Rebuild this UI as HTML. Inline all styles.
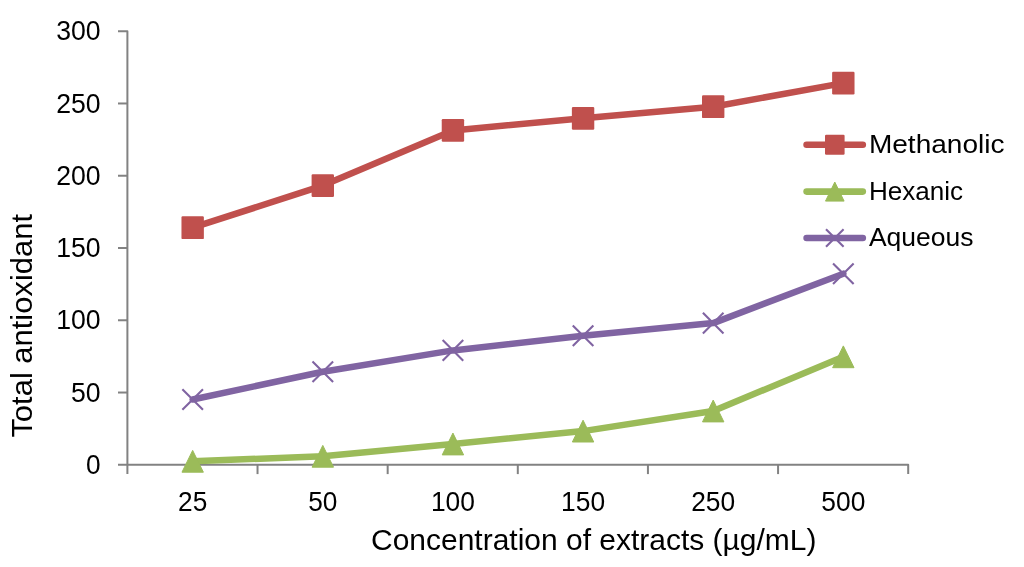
<!DOCTYPE html>
<html><head><meta charset="utf-8"><title>Chart</title>
<style>html,body{margin:0;padding:0;background:#fff;}body{width:1024px;height:567px;overflow:hidden;font-family:"Liberation Sans",sans-serif;}svg{display:block;will-change:transform;}text{font-family:"Liberation Sans",sans-serif;fill:#000;}</style>
</head><body>
<svg width="1024" height="567" viewBox="0 0 1024 567">
<rect x="0" y="0" width="1024" height="567" fill="#ffffff"/>
<g stroke="#828282" stroke-width="2" fill="none" stroke-linecap="butt">
<path stroke-linejoin="round" d="M118.00 31.20 L127.40 31.20 L127.40 474.10"/>
<path stroke-linejoin="round" d="M118.00 464.80 L908.20 464.80 L908.20 474.10"/>
<line x1="118.00" y1="392.53" x2="127.40" y2="392.53"/>
<line x1="118.00" y1="320.27" x2="127.40" y2="320.27"/>
<line x1="118.00" y1="248.00" x2="127.40" y2="248.00"/>
<line x1="118.00" y1="175.73" x2="127.40" y2="175.73"/>
<line x1="118.00" y1="103.47" x2="127.40" y2="103.47"/>
<line x1="257.53" y1="464.80" x2="257.53" y2="474.10"/>
<line x1="387.67" y1="464.80" x2="387.67" y2="474.10"/>
<line x1="517.80" y1="464.80" x2="517.80" y2="474.10"/>
<line x1="647.93" y1="464.80" x2="647.93" y2="474.10"/>
<line x1="778.07" y1="464.80" x2="778.07" y2="474.10"/>
</g>
<text x="100.6" y="473.90" font-size="27.5" text-anchor="end" textLength="14.6" lengthAdjust="spacingAndGlyphs">0</text>
<text x="100.6" y="401.63" font-size="27.5" text-anchor="end" textLength="29.6" lengthAdjust="spacingAndGlyphs">50</text>
<text x="100.6" y="329.37" font-size="27.5" text-anchor="end" textLength="44.4" lengthAdjust="spacingAndGlyphs">100</text>
<text x="100.6" y="257.10" font-size="27.5" text-anchor="end" textLength="44.4" lengthAdjust="spacingAndGlyphs">150</text>
<text x="100.6" y="184.83" font-size="27.5" text-anchor="end" textLength="44.4" lengthAdjust="spacingAndGlyphs">200</text>
<text x="100.6" y="112.57" font-size="27.5" text-anchor="end" textLength="44.4" lengthAdjust="spacingAndGlyphs">250</text>
<text x="100.6" y="40.30" font-size="27.5" text-anchor="end" textLength="44.4" lengthAdjust="spacingAndGlyphs">300</text>
<text x="192.67" y="511.1" font-size="27.5" text-anchor="middle" textLength="29.2" lengthAdjust="spacingAndGlyphs">25</text>
<text x="322.80" y="511.1" font-size="27.5" text-anchor="middle" textLength="29.2" lengthAdjust="spacingAndGlyphs">50</text>
<text x="452.93" y="511.1" font-size="27.5" text-anchor="middle" textLength="44.0" lengthAdjust="spacingAndGlyphs">100</text>
<text x="583.07" y="511.1" font-size="27.5" text-anchor="middle" textLength="44.0" lengthAdjust="spacingAndGlyphs">150</text>
<text x="713.20" y="511.1" font-size="27.5" text-anchor="middle" textLength="44.0" lengthAdjust="spacingAndGlyphs">250</text>
<text x="843.33" y="511.1" font-size="27.5" text-anchor="middle" textLength="44.0" lengthAdjust="spacingAndGlyphs">500</text>
<text x="371" y="549.7" font-size="30.2" textLength="445.5" lengthAdjust="spacingAndGlyphs">Concentration of extracts (µg/mL)</text>
<text transform="translate(32.2,437.6) rotate(-90)" font-size="30.2" textLength="223.6" lengthAdjust="spacingAndGlyphs">Total antioxidant</text>
<polyline points="192.67,227.70 322.80,185.60 452.93,130.40 583.07,118.30 713.20,106.70 843.33,83.10" fill="none" stroke="#C0504D" stroke-width="6.50" stroke-linejoin="round" stroke-linecap="round"/>
<rect x="181.47" y="216.30" width="22.40" height="22.80" rx="1.2" fill="#C0504D"/>
<rect x="311.60" y="174.20" width="22.40" height="22.80" rx="1.2" fill="#C0504D"/>
<rect x="441.73" y="119.00" width="22.40" height="22.80" rx="1.2" fill="#C0504D"/>
<rect x="571.87" y="106.90" width="22.40" height="22.80" rx="1.2" fill="#C0504D"/>
<rect x="702.00" y="95.30" width="22.40" height="22.80" rx="1.2" fill="#C0504D"/>
<rect x="832.13" y="71.70" width="22.40" height="22.80" rx="1.2" fill="#C0504D"/>
<polyline points="192.67,461.30 322.80,456.30 452.93,444.00 583.07,431.10 713.20,411.00 843.33,356.80" fill="none" stroke="#9BBB59" stroke-width="6.50" stroke-linejoin="round" stroke-linecap="round"/>
<path d="M192.67 450.40 L203.37 472.20 L181.97 472.20 Z" fill="#9BBB59" stroke="#9BBB59" stroke-width="1" stroke-linejoin="round"/>
<path d="M322.80 445.40 L333.50 467.20 L312.10 467.20 Z" fill="#9BBB59" stroke="#9BBB59" stroke-width="1" stroke-linejoin="round"/>
<path d="M452.93 433.10 L463.63 454.90 L442.23 454.90 Z" fill="#9BBB59" stroke="#9BBB59" stroke-width="1" stroke-linejoin="round"/>
<path d="M583.07 420.20 L593.77 442.00 L572.37 442.00 Z" fill="#9BBB59" stroke="#9BBB59" stroke-width="1" stroke-linejoin="round"/>
<path d="M713.20 400.10 L723.90 421.90 L702.50 421.90 Z" fill="#9BBB59" stroke="#9BBB59" stroke-width="1" stroke-linejoin="round"/>
<path d="M843.33 345.90 L854.03 367.70 L832.63 367.70 Z" fill="#9BBB59" stroke="#9BBB59" stroke-width="1" stroke-linejoin="round"/>
<polyline points="192.67,399.50 322.80,371.70 452.93,350.40 583.07,335.80 713.20,323.10 843.33,273.70" fill="none" stroke="#8064A2" stroke-width="6.50" stroke-linejoin="round" stroke-linecap="round"/>
<path d="M182.37 389.20 L202.97 409.80 M182.37 409.80 L202.97 389.20" fill="none" stroke="#8064A2" stroke-width="2.1"/>
<path d="M312.50 361.40 L333.10 382.00 M312.50 382.00 L333.10 361.40" fill="none" stroke="#8064A2" stroke-width="2.1"/>
<path d="M442.63 340.10 L463.23 360.70 M442.63 360.70 L463.23 340.10" fill="none" stroke="#8064A2" stroke-width="2.1"/>
<path d="M572.77 325.50 L593.37 346.10 M572.77 346.10 L593.37 325.50" fill="none" stroke="#8064A2" stroke-width="2.1"/>
<path d="M702.90 312.80 L723.50 333.40 M702.90 333.40 L723.50 312.80" fill="none" stroke="#8064A2" stroke-width="2.1"/>
<path d="M833.03 263.40 L853.63 284.00 M833.03 284.00 L853.63 263.40" fill="none" stroke="#8064A2" stroke-width="2.1"/>
<line x1="806.60" y1="144.70" x2="862.80" y2="144.70" stroke="#C0504D" stroke-width="6.6" stroke-linecap="round"/>
<rect x="825.00" y="134.70" width="19.60" height="20.00" rx="1.2" fill="#C0504D"/>
<text x="868.9" y="152.70" font-size="24.9" textLength="135.6" lengthAdjust="spacingAndGlyphs">Methanolic</text>
<line x1="806.60" y1="191.60" x2="862.80" y2="191.60" stroke="#9BBB59" stroke-width="6.6" stroke-linecap="round"/>
<path d="M834.80 182.10 L844.10 201.10 L825.50 201.10 Z" fill="#9BBB59" stroke="#9BBB59" stroke-width="1" stroke-linejoin="round"/>
<text x="868.9" y="199.60" font-size="24.9" textLength="94.2" lengthAdjust="spacingAndGlyphs">Hexanic</text>
<line x1="806.60" y1="238.00" x2="862.80" y2="238.00" stroke="#8064A2" stroke-width="6.6" stroke-linecap="round"/>
<path d="M826.00 229.20 L843.60 246.80 M826.00 246.80 L843.60 229.20" fill="none" stroke="#8064A2" stroke-width="2.1"/>
<text x="868.9" y="246.00" font-size="24.9" textLength="104.6" lengthAdjust="spacingAndGlyphs">Aqueous</text>
</svg>
</body></html>
